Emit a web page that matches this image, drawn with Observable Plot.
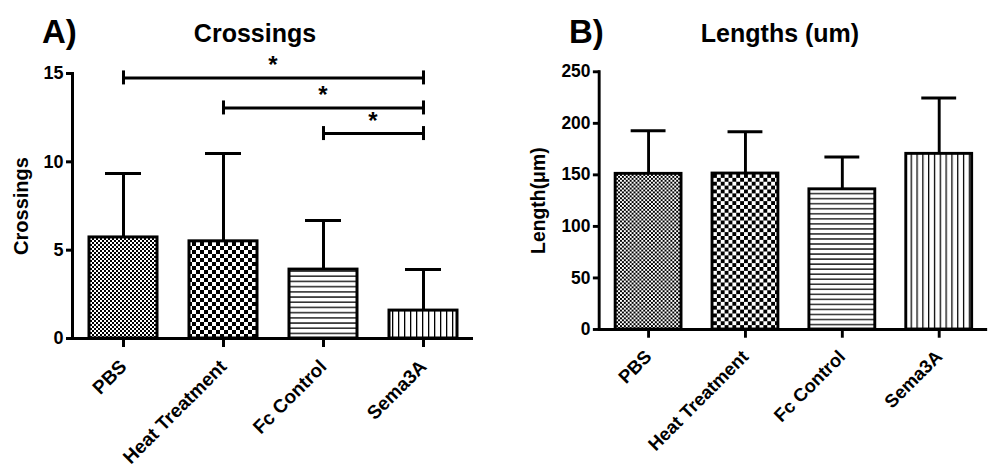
<!DOCTYPE html>
<html><head><meta charset="utf-8">
<script src="https://cdn.jsdelivr.net/npm/d3@7"></script>
<script src="https://cdn.jsdelivr.net/npm/@observablehq/plot@0.6"></script>
<style>
html,body{margin:0;padding:0;background:#fff;overflow:hidden;}
#wrap{position:relative;width:992px;height:470px;overflow:hidden;font-family:"Liberation Sans",Arial,sans-serif;font-weight:bold;color:#000;background:#fff;}
.t{position:absolute;line-height:1;white-space:nowrap;}
.panel{position:absolute;top:50px;}
</style></head><body>
<div id="wrap"></div>
<script>
// ---- data ----
const categories = ["PBS", "Heat Treatment", "Fc Control", "Sema3A"];
const crossingsMean = [5.72, 5.5, 3.9, 1.58];
const crossingsSD = [3.62, 4.97, 2.78, 2.32];
const lengthsMean = [151, 151.3, 136, 170.4];
const lengthsSD = [41.8, 40.6, 31.3, 54.2];
const crossingsTicks = [0, 5, 10, 15];
const lengthsTicks = [0, 50, 100, 150, 200, 250];
const panelTags = ["A)", "B)"];
const panelTitles = ["Crossings", "Lengths (um)"];
const yLabels = ["Crossings", "Length(\u03bcm)"];
const sigFrom = ["PBS", "Heat Treatment", "Fc Control"];
const sigTo = ["Sema3A", "Sema3A", "Sema3A"];
const sigY = [14.75, 13.05, 11.6];
const sigLabel = ["*", "*", "*"];

const FONT = '"Liberation Sans", Arial, sans-serif';
const wrap = document.getElementById("wrap");

// titles (HTML, above the SVGs)
function addTitle(text, size, left, top, center) {
  const d = document.createElement("div");
  d.className = "t";
  d.textContent = text;
  d.style.fontSize = size + "px";
  d.style.left = left + "px";
  d.style.top = top + "px";
  if (center) d.style.transform = "translateX(-50%)";
  wrap.appendChild(d);
}
addTitle(panelTags[0], 33, 42, 15, false);
addTitle(panelTitles[0], 25, 255, 21, true);
addTitle(panelTags[1], 33, 569, 15, false);
addTitle(panelTitles[1], 25, 780, 21, true);

function patternDefs(prefix) {
  return () => {
    const defs = d3.create("svg:defs");
    // 0: fine checkerboard
    let p = defs.append("pattern").attr("id", prefix + "0").attr("patternUnits", "userSpaceOnUse").attr("width", 4).attr("height", 4);
    p.append("rect").attr("width", 4).attr("height", 4).attr("fill", "#fff");
    p.append("rect").attr("width", 2).attr("height", 2).attr("fill", "#000");
    p.append("rect").attr("x", 2).attr("y", 2).attr("width", 2).attr("height", 2).attr("fill", "#000");
    // 1: coarse checkerboard
    p = defs.append("pattern").attr("id", prefix + "1").attr("patternUnits", "userSpaceOnUse").attr("width", 8).attr("height", 8);
    p.append("rect").attr("width", 8).attr("height", 8).attr("fill", "#fff");
    p.append("rect").attr("width", 4).attr("height", 4).attr("fill", "#000");
    p.append("rect").attr("x", 4).attr("y", 4).attr("width", 4).attr("height", 4).attr("fill", "#000");
    // 2: horizontal lines
    p = defs.append("pattern").attr("id", prefix + "2").attr("patternUnits", "userSpaceOnUse").attr("width", 6).attr("height", 5.2);
    p.append("rect").attr("width", 6).attr("height", 5.2).attr("fill", "#fff");
    p.append("rect").attr("y", 2).attr("width", 6).attr("height", 1.3).attr("fill", "#000");
    // 3: vertical lines
    p = defs.append("pattern").attr("id", prefix + "3").attr("patternUnits", "userSpaceOnUse").attr("width", 6).attr("height", 6);
    p.append("rect").attr("width", 6).attr("height", 6).attr("fill", "#fff");
    p.append("rect").attr("x", 2).attr("width", 1.3).attr("height", 6).attr("fill", "#000");
    return defs.node();
  };
}

function sigStars(rows) {
  return (index, scales) => {
    const sx = scales.x, sy = scales.y;
    const half = sx.bandwidth ? sx.bandwidth() / 2 : 0;
    const g = d3.create("svg:g");
    rows.forEach(r => {
      g.append("text")
        .attr("x", (sx(r.from) + sx(r.to)) / 2 + half)
        .attr("y", sy(r.y) - 4)
        .attr("text-anchor", "middle")
        .attr("font-size", 24).attr("font-weight", "bold")
        .attr("font-family", FONT)
        .text(r.label);
    });
    return g.node();
  };
}

function makePanel(opts) {
  const rows = categories.map((c, i) => ({cat: c, mean: opts.mean[i], sd: opts.sd[i]}));
  const marks = [patternDefs(opts.prefix)];
  categories.forEach((c, i) => {
    marks.push(Plot.barY(rows.filter(d => d.cat === c), {
      x: "cat", y: "mean", fill: `url(#${opts.prefix}${i})`, stroke: "#000", strokeWidth: 3
    }));
  });
  marks.push(
    Plot.ruleX(rows, {x: "cat", y1: "mean", y2: d => d.mean + d.sd, stroke: "#000", strokeWidth: 3}),
    Plot.tickY(rows, {x: "cat", y: d => d.mean + d.sd, stroke: "#000", strokeWidth: 3, insetLeft: 16, insetRight: 16}),
    Plot.ruleY([0], {stroke: "#000", strokeWidth: 3}),
    Plot.frame({anchor: "left", stroke: "#000", strokeWidth: 3, dx: -1}),
    Plot.axisY({ticks: opts.ticks, tickSize: 7, tickPadding: 3, fontSize: 18, fontWeight: "bold", stroke: "#000", strokeWidth: 3, label: null}),
    Plot.axisX({tickRotate: -45, tickSize: 9, tickPadding: 16, fontSize: 19, fontWeight: "bold", stroke: "#000", strokeWidth: 3, label: null}),
    Plot.text([opts.ylabel], {frameAnchor: "left", textAnchor: "middle", rotate: -90, dx: opts.labelDx, fontSize: 20, fontWeight: "bold"})
  );
  if (opts.sig) {
    const sig = opts.sig.from.map((f, i) => ({from: f, to: opts.sig.to[i], y: opts.sig.y[i], label: opts.sig.label[i]}));
    const ends = sig.flatMap(s => [{x: s.from, y: s.y}, {x: s.to, y: s.y}]);
    marks.push(
      Plot.link(sig, {x1: "from", x2: "to", y1: "y", y2: "y", stroke: "#000", strokeWidth: 3}),
      Plot.ruleX(ends, {x: "x", y1: "y", y2: "y", insetTop: -7, insetBottom: -7, stroke: "#000", strokeWidth: 3}),
      sigStars(sig)
    );
  }
  return Plot.plot({
    width: opts.width, height: 420,
    marginLeft: opts.ml, marginRight: opts.mr, marginTop: opts.mt, marginBottom: 132,
    style: {fontFamily: FONT, fontWeight: "bold", background: "transparent", color: "#000", overflow: "visible"},
    x: {domain: categories, paddingInner: 0.32, paddingOuter: 0.16, label: null},
    y: {domain: [opts.ticks[0], opts.ticks[opts.ticks.length - 1]], label: null},
    marks
  });
}

const pa = makePanel({
  prefix: "pa", mean: crossingsMean, sd: crossingsSD, ticks: crossingsTicks, ylabel: yLabels[0],
  width: 496, ml: 73, mr: 23, mt: 23, labelDx: -52,
  sig: {from: sigFrom, to: sigTo, y: sigY, label: sigLabel}
});
const pb = makePanel({
  prefix: "pb", mean: lengthsMean, sd: lengthsSD, ticks: lengthsTicks, ylabel: yLabels[1],
  width: 512, ml: 107, mr: 5, mt: 22, labelDx: -63
});
const da = document.createElement("div"); da.className = "panel"; da.style.left = "0px"; da.appendChild(pa);
const db = document.createElement("div"); db.className = "panel"; db.style.left = "496px"; db.appendChild(pb);
wrap.appendChild(da); wrap.appendChild(db);
</script>
</body></html>
